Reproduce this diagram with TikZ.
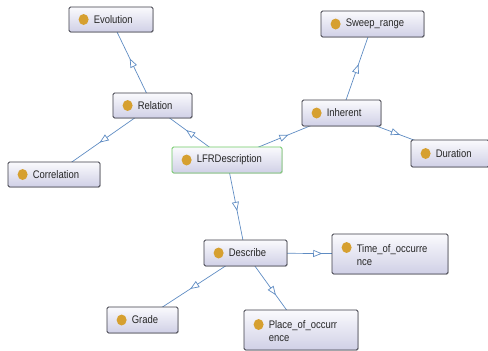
\documentclass[tikz,border=0pt]{standalone}
\usepackage{fontspec}
\setmainfont{Liberation Sans}[FakeStretch=0.86]
\usetikzlibrary{arrows.meta,decorations.markings,backgrounds,shadows}
\definecolor{edgeblue}{RGB}{95,140,195}
\definecolor{icongold}{RGB}{214,160,48}
\definecolor{boxtop}{RGB}{250,250,253}
\definecolor{boxbot}{RGB}{208,208,230}
\definecolor{boxline}{RGB}{60,60,70}
\definecolor{rootline}{RGB}{110,200,100}
\begin{document}
\begin{tikzpicture}[x=1pt,y=-1pt,
  cls/.style={draw=boxline, line width=0.8pt, rounded corners=1.5pt,
    top color=boxtop, bottom color=boxbot, inner sep=0pt,
    drop shadow={shadow xshift=0.8pt, shadow yshift=-0.8pt, opacity=0.25}},
  lbl/.style={font=\fontsize{11}{13}\selectfont, inner sep=0pt, anchor=west, align=left, text=black!85},
  ico/.style={fill=icongold},
  isa/.style={draw=edgeblue, line width=0.7pt, postaction={decorate},
    decoration={markings, mark=at position 0.5 with
      {\arrow[xshift=4.5pt]{Triangle[open, length=9pt, width=7pt, fill=white]}}}}
]
\useasboundingbox (0,0) rectangle (488,351);

% class boxes
\node[cls, minimum width=84pt, minimum height=25pt] (evo) at (111,19.5) {};
\node[cls, minimum width=79pt, minimum height=25pt] (rel) at (152.5,105.5) {};
\node[cls, draw=rootline, minimum width=110pt, minimum height=26pt] (lfr) at (227,160) {};
\node[cls, minimum width=103pt, minimum height=26pt] (swp) at (372.5,24) {};
\node[cls, minimum width=79pt, minimum height=26pt] (inh) at (341.5,113) {};
\node[cls, minimum width=78pt, minimum height=27pt] (dur) at (450,153.5) {};
\node[cls, minimum width=92pt, minimum height=25pt] (cor) at (54,174.5) {};
\node[cls, minimum width=83pt, minimum height=26pt] (des) at (245.5,253) {};
\node[cls, minimum width=116pt, minimum height=40pt] (tim) at (390,254) {};
\node[cls, minimum width=71pt, minimum height=26pt] (grd) at (142.5,320) {};
\node[cls, minimum width=114pt, minimum height=40pt] (plc) at (301,330) {};

% icons
\foreach \n in {evo,rel,lfr,swp,inh,dur,cor,des,grd}
  \fill[ico] ([xshift=15pt]\n.west) ellipse (5pt and 5.5pt);
\fill[ico] ([xshift=15pt,yshift=6.5pt]tim.west) ellipse (5pt and 5.5pt);
\fill[ico] ([xshift=15pt,yshift=5.5pt]plc.west) ellipse (5pt and 5.5pt);

% labels
\node[lbl] at ([xshift=25pt]evo.west) {Evolution};
\node[lbl] at ([xshift=25pt]rel.west) {Relation};
\node[lbl] at ([xshift=25pt]lfr.west) {LFRDescription};
\node[lbl] at ([xshift=25pt]swp.west) {Sweep\_range};
\node[lbl] at ([xshift=25pt]inh.west) {Inherent};
\node[lbl] at ([xshift=25pt]dur.west) {Duration};
\node[lbl] at ([xshift=25pt]cor.west) {Correlation};
\node[lbl] at ([xshift=25pt]des.west) {Describe};
\node[lbl] at ([xshift=25pt]grd.west) {Grade};
\node[lbl] at ([xshift=25pt,yshift=-1pt]tim.west) {Time\_of\_occurre\\nce};
\node[lbl] at ([xshift=25pt,yshift=-1pt]plc.west) {Place\_of\_occurr\\ence};

% connectors
\begin{scope}[on background layer]
\draw[isa] (rel.center) -- (evo.center);
\draw[isa] (rel.center) -- (cor.center);
\draw[isa] (lfr.center) -- (rel.center);
\draw[isa] (lfr.center) -- (inh.center);
\draw[isa] (inh.center) -- (swp.center);
\draw[isa] (inh.center) -- (dur.center);
\draw[isa] (lfr.center) -- (des.center);
\draw[isa] (des.center) -- (tim.center);
\draw[isa] (des.center) -- (grd.center);
\draw[isa] (des.center) -- (plc.center);
\end{scope}
\end{tikzpicture}
\end{document}
